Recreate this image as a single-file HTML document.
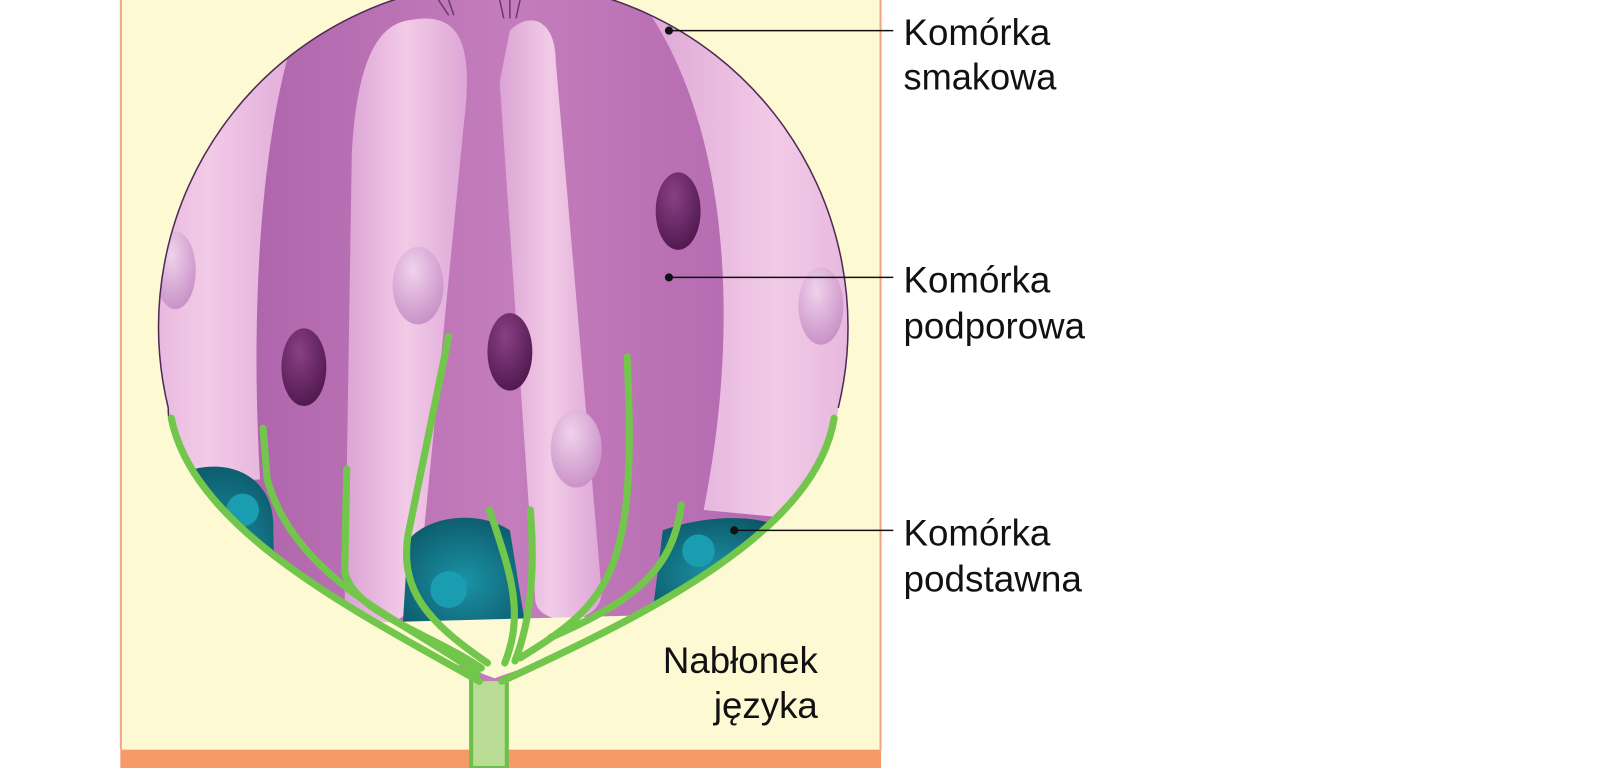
<!DOCTYPE html>
<html><head><meta charset="utf-8"><style>html,body{margin:0;padding:0;background:#fff;}svg{display:block}</style></head>
<body>
<svg width="1600" height="768" viewBox="0 0 1569 753" preserveAspectRatio="none" xmlns="http://www.w3.org/2000/svg">
<defs>
<linearGradient id="pk" x1="0" y1="0" x2="1" y2="0"><stop offset="0" stop-color="#dba3d4"/><stop offset="0.5" stop-color="#f2cbe7"/><stop offset="1" stop-color="#dda6d6"/></linearGradient>
<linearGradient id="pu" x1="0" y1="0" x2="1" y2="0"><stop offset="0" stop-color="#a358a3"/><stop offset="0.5" stop-color="#c47dbc"/><stop offset="1" stop-color="#a95ea8"/></linearGradient>
<radialGradient id="nd" cx="0.4" cy="0.3" r="0.8"><stop offset="0" stop-color="#8a3f86"/><stop offset="1" stop-color="#4a1548"/></radialGradient>
<radialGradient id="nl" cx="0.4" cy="0.3" r="0.8"><stop offset="0" stop-color="#f0d2ec"/><stop offset="1" stop-color="#c58ac3"/></radialGradient>
<radialGradient id="tl" cx="0.5" cy="0.6" r="0.7"><stop offset="0" stop-color="#1b93a6"/><stop offset="1" stop-color="#0b5565"/></radialGradient>
<clipPath id="bud"><path d="M470 668 C350 600 185 520 165 400 A338 338 0 1 1 822 400 C805 520 640 600 492 668 Z"/></clipPath>
</defs>
<rect x="118" y="0" width="746" height="735" fill="#fdf9d3"/>
<line x1="118.5" y1="0" x2="118.5" y2="735" stroke="#f2a582" stroke-width="2"/>
<line x1="863.5" y1="0" x2="863.5" y2="735" stroke="#f2a582" stroke-width="2"/>
<rect x="118" y="735" width="746" height="18" fill="#f59a68"/>
<rect x="462" y="655" width="35" height="98" fill="#b9dd95" stroke="#6cc04a" stroke-width="4"/>
<g clip-path="url(#bud)">
<rect x="100" y="-50" width="800" height="750" fill="url(#pu)"/>
<path d="M305 -10 C255 100 245 300 255 470 L100 480 L100 -10 Z" fill="url(#pk)"/>
<path d="M620 -10 C710 100 730 300 690 500 L900 520 L900 -10 Z" fill="url(#pk)"/>
<path d="M400 20 C450 10 465 40 455 120 L410 580 C405 620 345 620 338 590 L345 150 C350 60 370 25 400 20 Z" fill="url(#pk)"/>
<path d="M500 30 C520 10 545 20 545 60 L590 580 C590 615 530 615 525 590 L490 80 Z" fill="url(#pk)"/>
<path d="M190 460 C230 450 270 470 268 520 L270 600 L170 560 Z" fill="url(#tl)"/>
<path d="M400 530 C420 505 470 500 500 520 L515 612 L395 612 Z" fill="url(#tl)"/>
<path d="M650 520 C690 505 740 505 760 515 L740 600 L640 600 Z" fill="url(#tl)"/>
<ellipse cx="172" cy="265" rx="20" ry="38" fill="url(#nl)"/>
<ellipse cx="805" cy="300" rx="22" ry="38" fill="url(#nl)"/>
<ellipse cx="410" cy="280" rx="25" ry="38" fill="url(#nl)"/>
<ellipse cx="565" cy="440" rx="25" ry="38" fill="url(#nl)"/>
<ellipse cx="665" cy="207" rx="22" ry="38" fill="url(#nd)"/>
<ellipse cx="298" cy="360" rx="22" ry="38" fill="url(#nd)"/>
<ellipse cx="500" cy="345" rx="22" ry="38" fill="url(#nd)"/>
<circle cx="238" cy="500" r="16" fill="#1a9db0"/>
<circle cx="440" cy="578" r="18" fill="#1a9db0"/>
<circle cx="685" cy="540" r="16" fill="#1a9db0"/>
<g stroke="#6c3a6c" stroke-width="1.5"><line x1="430" y1="0" x2="440" y2="15"/><line x1="440" y1="0" x2="445" y2="15"/><line x1="490" y1="0" x2="494" y2="18"/><line x1="500" y1="0" x2="500" y2="18"/><line x1="510" y1="0" x2="506" y2="18"/></g>
<path d="M300 612 L680 602 C600 630 540 645 485 665 C420 640 360 625 300 612 Z" fill="#fdf9d3"/>
</g>
<path d="M168 420 C165 410 165 405 165 400 A338 338 0 1 1 822 400" fill="none" stroke="#4d2b55" stroke-width="1.5"/>
<g fill="none" stroke="#72c64c" stroke-width="7" stroke-linecap="round">
<path d="M470 668 C350 600 190 520 168 410"/>
<path d="M492 668 C640 600 800 520 818 410"/>
<path d="M468 660 C400 610 290 570 262 470 L258 420"/>
<path d="M478 650 C420 610 392 580 400 525 L440 330"/>
<path d="M472 655 C420 620 345 600 338 560 L340 460"/>
<path d="M495 650 C515 600 500 560 480 500"/>
<path d="M505 648 C520 610 525 560 520 500"/>
<path d="M510 645 C600 590 625 560 615 350"/>
<path d="M540 625 C620 590 660 560 668 495"/>
</g>
<g fill="#111" font-family="'Liberation Sans Narrow','Liberation Sans',sans-serif" font-size="36">
<line x1="656" y1="30" x2="876" y2="30" stroke="#111" stroke-width="1.5"/><circle cx="656" cy="30" r="4"/>
<line x1="656" y1="272" x2="876" y2="272" stroke="#111" stroke-width="1.5"/><circle cx="656" cy="272" r="4"/>
<line x1="720" y1="520" x2="876" y2="520" stroke="#111" stroke-width="1.5"/><circle cx="720" cy="520" r="4"/>
<text x="886" y="44" textLength="144" lengthAdjust="spacingAndGlyphs">Komórka</text>
<text x="886" y="88" textLength="150" lengthAdjust="spacingAndGlyphs">smakowa</text>
<text x="886" y="287" textLength="144" lengthAdjust="spacingAndGlyphs">Komórka</text>
<text x="886" y="332" textLength="178" lengthAdjust="spacingAndGlyphs">podporowa</text>
<text x="886" y="535" textLength="144" lengthAdjust="spacingAndGlyphs">Komórka</text>
<text x="886" y="580" textLength="175" lengthAdjust="spacingAndGlyphs">podstawna</text>
<text x="650" y="660" textLength="152" lengthAdjust="spacingAndGlyphs">Nabłonek</text>
<text x="700" y="704" textLength="102" lengthAdjust="spacingAndGlyphs">języka</text>
</g>
</svg>
</body></html>
